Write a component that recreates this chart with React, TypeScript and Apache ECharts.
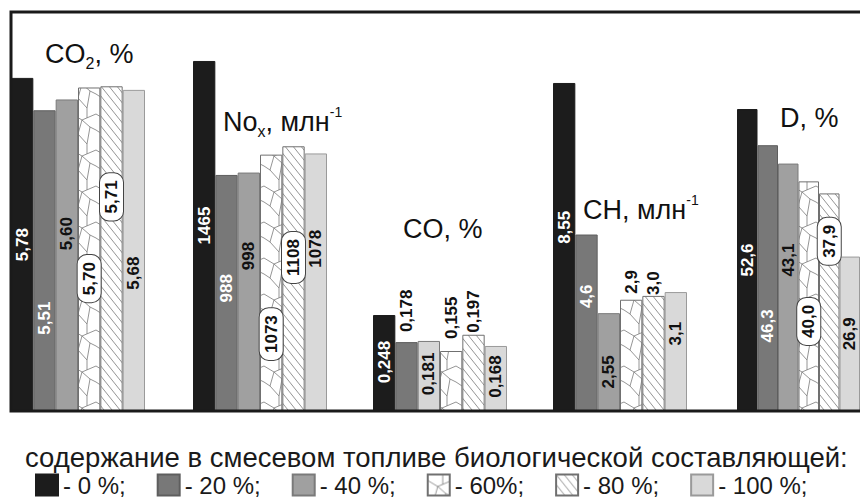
import React, { useEffect, useRef } from 'react';
import * as echarts from 'echarts';

// ---- data ----
const fractions = ['0 %', '20 %', '40 %', '60%', '80 %', '100 %'];
const groupNames = ['CO2', 'NOx', 'CO', 'CH', 'D'];
const co2Values = [5.78, 5.51, 5.6, 5.7, 5.71, 5.68];
const noxValues = [1465, 988, 998, 1073, 1108, 1078];
const coValues = [0.248, 0.178, 0.181, 0.155, 0.197, 0.168];
const chValues = [8.55, 4.6, 2.55, 2.9, 3.0, 3.1];
const dValues = [52.6, 46.3, 43.1, 40.0, 37.9, 26.9];
const co2Decimals = [2, 2, 2, 2, 2, 2];
const noxDecimals = [0, 0, 0, 0, 0, 0];
const coDecimals = [3, 3, 3, 3, 3, 3];
const chDecimals = [2, 1, 2, 1, 1, 1];
const dDecimals = [1, 1, 1, 1, 1, 1];
const axisMin = [3, 0, 0, 0, 0];
const axisMax = [6.33, 1670, 1.031, 10.4, 69.5];

// ---- layout / style ----
const FONT = 'Liberation Sans, Arial, sans-serif';
const groupLeft = [11, 193, 373, 553, 737];
const groupWidth = 134;
const plotTop = 12;
const plotHeight = 399;
// >=0 : label centre at % of bar height from top (inside); <0 : above bar by |n| px
const labelPlace = [
  [50, 69, 43, 59, 34, 57],
  [47, 48, 35, 70, 42, 37],
  [49, -10, 47, -12, -2, 47],
  [44, 35, 60, -6, -1, 35],
  [50, 68, 39, 61, 22, 50],
];
const titles = [
  { text: '{a|CO}{s|2}{a|, %}', left: 45, top: 37 },
  { text: '{a|No}{s|x}{a|, млн}{p|-1}', left: 223, top: 105 },
  { text: '{a|CO, %}', left: 403, top: 212 },
  { text: '{a|CH, млн}{p|-1}', left: 583, top: 193 },
  { text: '{a|D, %}', left: 780, top: 101 },
];

function tileCanvas(w: number, h: number, segs: number[][], color: string, lw: number) {
  const c = document.createElement('canvas');
  c.width = w;
  c.height = h;
  const ctx = c.getContext('2d')!;
  ctx.fillStyle = '#ffffff';
  ctx.fillRect(0, 0, w, h);
  ctx.strokeStyle = color;
  ctx.lineWidth = lw;
  segs.forEach((s) => {
    ctx.beginPath();
    ctx.moveTo(s[0], s[1]);
    ctx.lineTo(s[2], s[3]);
    ctx.stroke();
  });
  return c;
}

export default function App() {
  const ref = useRef<HTMLDivElement>(null);
  useEffect(() => {
    if (!ref.current) return;
    const chart = echarts.init(ref.current, null, { renderer: 'svg' });

    const crack = tileCanvas(
      24,
      36,
      [
        [0, 6, 10, 12],
        [10, 12, 24, 6],
        [15, 0, 15, 9.9],
        [10, 12, 6, 26],
        [0, 22, 6, 26],
        [6, 26, 15, 36],
        [10, 12, 18, 19],
        [18, 19, 24, 22],
        [18, 19, 15, 36],
      ],
      '#7a7a7a',
      0.8
    );
    const hatch = tileCanvas(
      8,
      10,
      [
        [-8, 0, 0, 10],
        [0, 0, 8, 10],
        [8, 0, 16, 10],
      ],
      '#7a7a7a',
      0.8
    );
    const fills: any[] = [
      '#1c1c1c',
      '#787878',
      '#a0a0a0',
      { image: crack, repeat: 'repeat', imageWidth: 24, imageHeight: 36 },
      { image: hatch, repeat: 'repeat', imageWidth: 8, imageHeight: 10 },
      '#d9d9d9',
    ];
    const borders = ['#1c1c1c', '#5e5e5e', '#7a7a7a', '#707070', '#707070', '#9a9a9a'];
    const textColors = ['#ffffff', '#ffffff', '#111111', '#111111', '#111111', '#111111'];

    const values = [co2Values, noxValues, coValues, chValues, dValues];
    const decimals = [co2Decimals, noxDecimals, coDecimals, chDecimals, dDecimals];

    const grids = groupLeft.map((l) => ({
      left: l,
      width: groupWidth,
      top: plotTop,
      height: plotHeight,
    }));
    const xAxes = groupNames.map((g, i) => ({
      type: 'category',
      gridIndex: i,
      data: [g],
      show: false,
    }));
    const yAxes = groupNames.map((g, i) => ({
      type: 'value',
      gridIndex: i,
      min: axisMin[i],
      max: axisMax[i],
      show: false,
    }));

    const series: any[] = [];
    values.forEach((vals, g) => {
      vals.forEach((v, f) => {
        const place = labelPlace[g][f];
        const text = v.toFixed(decimals[g][f]).replace('.', ',');
        const label: any = {
          show: true,
          rotate: 90,
          formatter: text,
          fontFamily: FONT,
          fontWeight: 'bold',
          fontSize: 17,
          color: place >= 0 ? textColors[f] : '#111111',
        };
        if (place >= 0) {
          label.position = ['50%', place + '%'];
          label.align = 'center';
          label.verticalAlign = 'middle';
          if (f === 3 || f === 4) {
            label.backgroundColor = '#ffffff';
            label.borderColor = '#444444';
            label.borderWidth = 1;
            label.borderRadius = 9;
            label.padding = [3, 7];
          }
        } else {
          label.position = 'top';
          label.distance = -place;
          label.align = 'left';
          label.verticalAlign = 'middle';
        }
        const itemStyle: any = {
          color: fills[f],
          borderColor: borders[f],
          borderWidth: 1,
        };
        if (g === 2 && f === 2) itemStyle.color = '#d6d6d6';
        series.push({
          type: 'bar',
          name: fractions[f],
          xAxisIndex: g,
          yAxisIndex: g,
          barGap: '0%',
          barCategoryGap: '0%',
          itemStyle: { color: fills[f], borderColor: borders[f], borderWidth: 1 },
          data: [{ value: v, itemStyle, label }],
        });
      });
    });

    const base = { fontFamily: FONT, color: '#111', fontWeight: 'normal' };
    const richTitle = {
      a: { ...base, fontSize: 27, lineHeight: 34, verticalAlign: 'middle' },
      s: { ...base, fontSize: 16, lineHeight: 16, verticalAlign: 'bottom' },
      p: { ...base, fontSize: 14, lineHeight: 20, verticalAlign: 'top' },
    };

    chart.setOption({
      animation: false,
      backgroundColor: '#ffffff',
      title: [
        ...titles.map((t) => ({
          text: t.text,
          left: t.left,
          top: t.top,
          padding: 0,
          textStyle: { fontWeight: 'normal', fontFamily: FONT, rich: richTitle },
        })),
        {
          text: 'содержание в смесевом топливе биологической составляющей:',
          left: 25,
          top: 443,
          padding: 0,
          textStyle: { fontFamily: FONT, fontSize: 27.5, fontWeight: 'normal', color: '#1a1a1a' },
        },
      ],
      legend: {
        data: fractions,
        left: 35,
        top: 473,
        padding: 0,
        icon: 'rect',
        itemWidth: 22,
        itemHeight: 21,
        itemGap: 31,
        selectedMode: false,
        formatter: (n: string) => '- ' + n + ';',
        textStyle: { fontFamily: FONT, fontSize: 24, lineHeight: 22, color: '#1a1a1a' },
      },
      grid: grids,
      xAxis: xAxes,
      yAxis: yAxes,
      series,
      graphic: [
        {
          type: 'rect',
          z: 100,
          shape: { x: 11, y: 12, width: 900, height: 399 },
          style: { fill: 'none', stroke: '#1a1a1a', lineWidth: 3 },
          silent: true,
        },
      ],
    });
    return () => chart.dispose();
  }, []);
  return (
    <div
      ref={ref}
      style={{ position: 'fixed', left: 0, top: 0, width: 860, height: 499, background: '#fff' }}
    />
  );
}
